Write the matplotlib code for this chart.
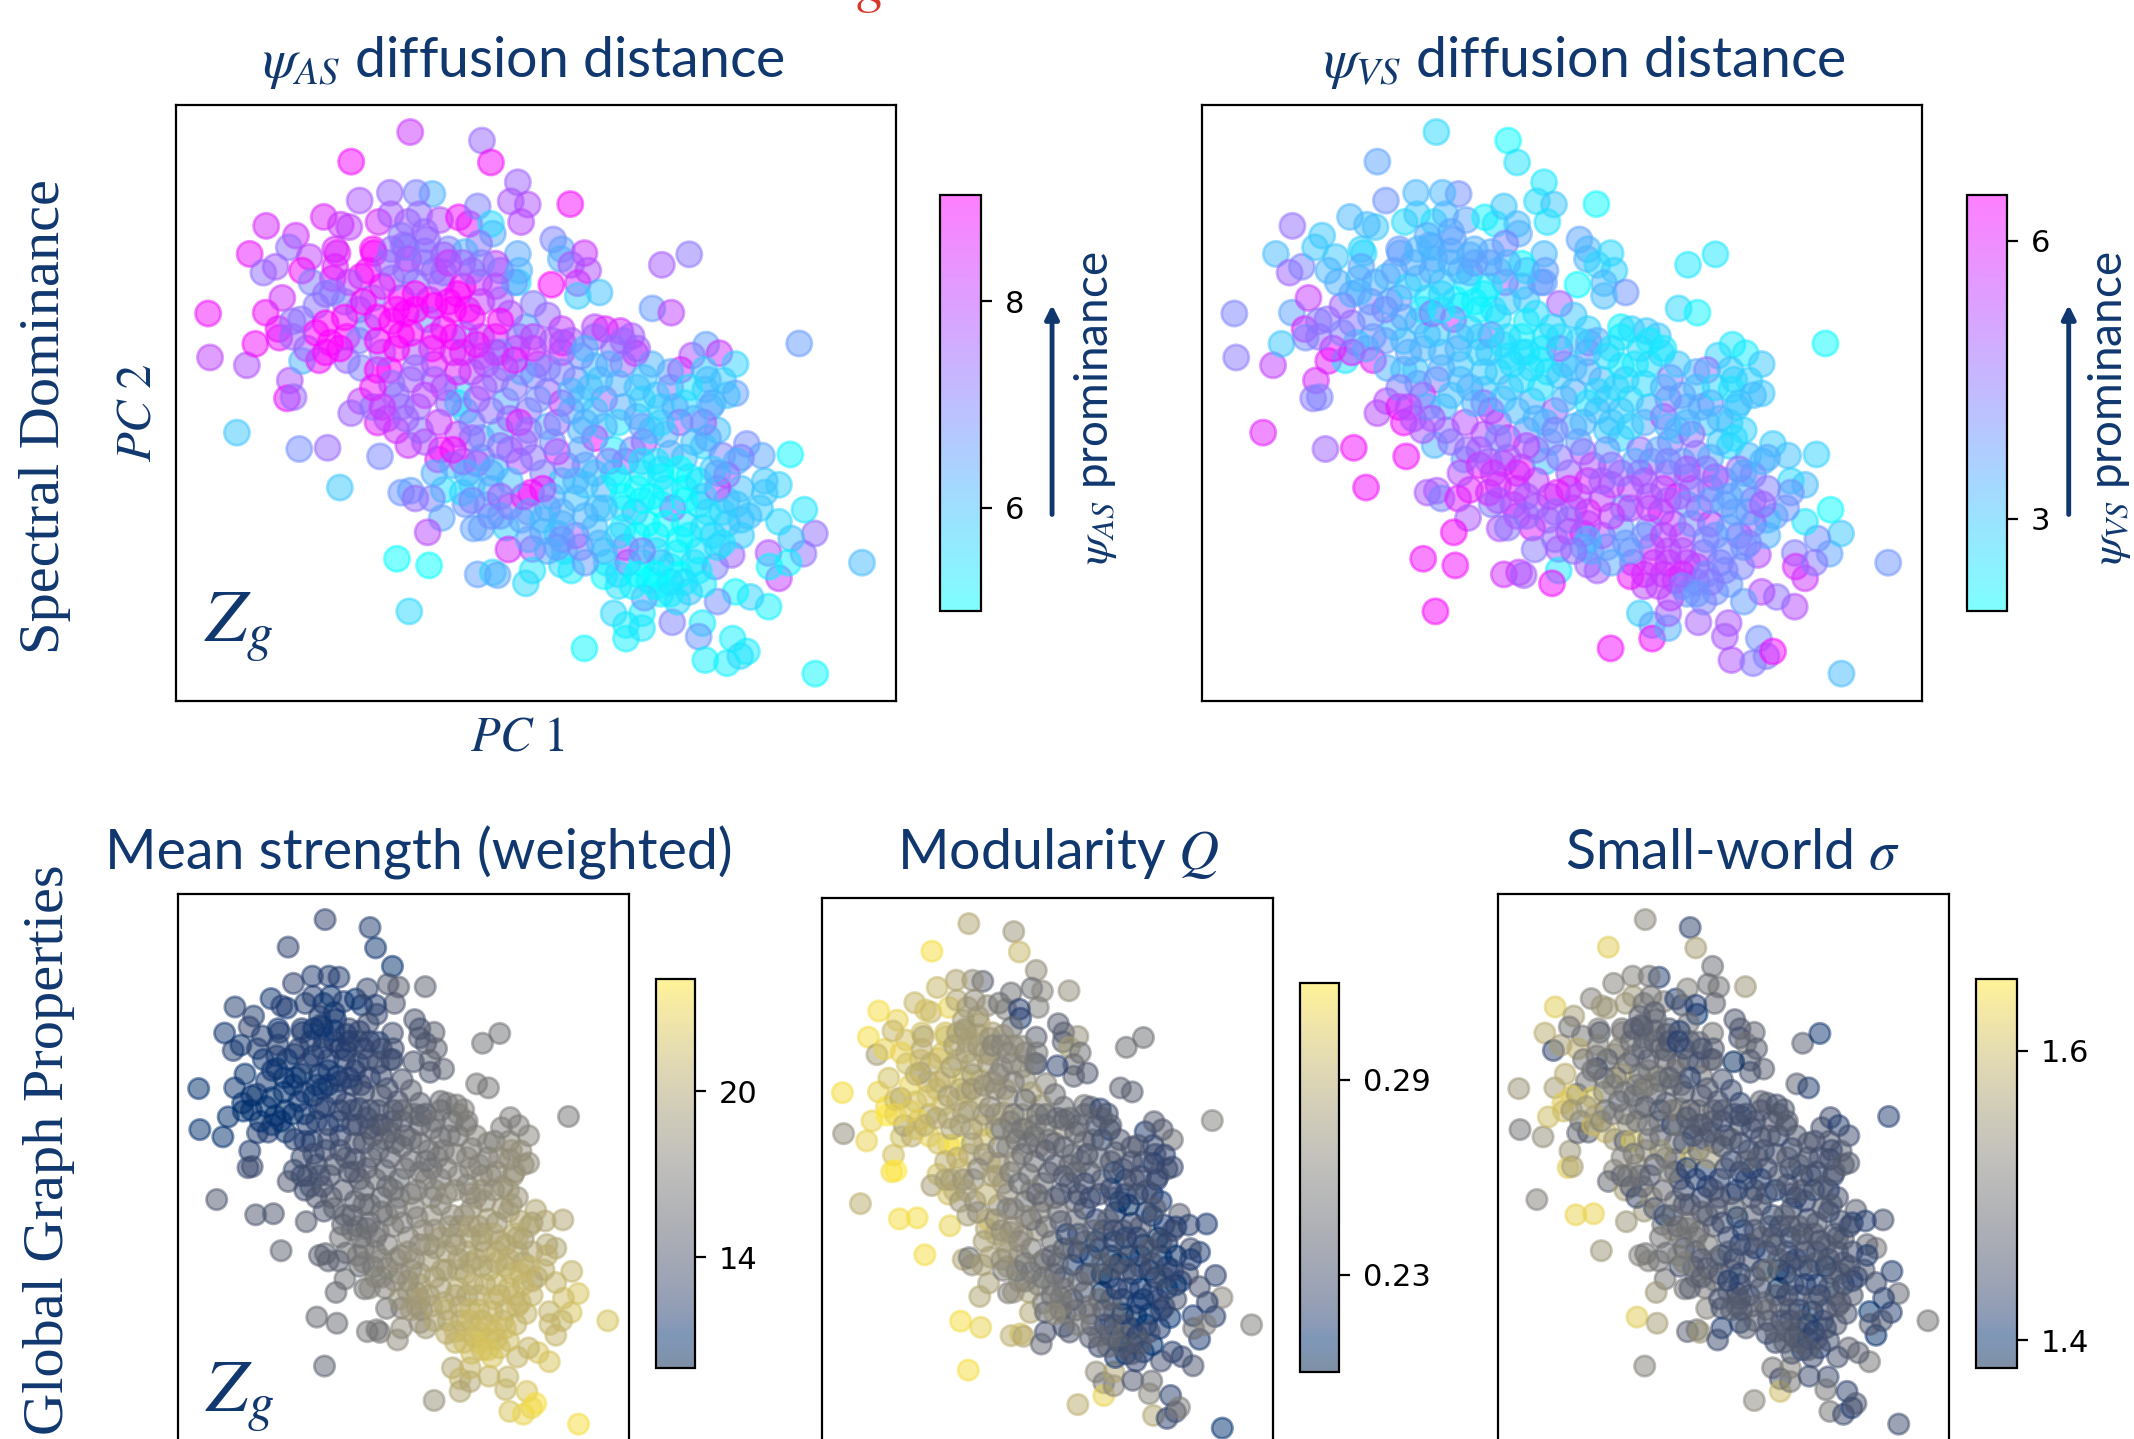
import matplotlib
matplotlib.use("Agg")
import matplotlib.pyplot as plt
from matplotlib.patches import FancyArrowPatch

plt.rcParams['font.family'] = ['Lato', 'DejaVu Sans']
plt.rcParams['mathtext.fontset'] = 'stix'

NAVY = '#10386f'
RED = '#d9352a'

pc1 = [509,661,680,384,737,556,522,466,402,848,
326,204,267,169,198,224,252,296,350,380,
362,442,468,504,528,572,612,634,652,722,
758,744,684,680,655,590,625,737,812,830,
878,828,850,886,864,910,864,808,737,690,
1042,1100,1022,1062,900,922,954,978,832,986,
1106,1136,1164,1198,1333,1082,1132,1172,1198,1134,
81,85,163,181,203,238,230,232,278,254,
248,262,280,316,142,274,334,445,360,404,
384,440,505,568,650,580,490,510,520,555,
576,546,643,672,626,712,717,768,481,549,
652,684,694,768,754,830,850,836,507,878,
940,966,966,1000,1000,1064,1128,1120,1192,1134,
1180,1208,1222,1367,1466,1268,1230,1198,1160,1290,
1342,1366,1316,1268,1270,1310,1344,1314,1290,1260,
1222,1254,1210,1180,1290,1250,1226,1210,1180,1190,
280,345,355,405,432,430,495,505,545,580,
655,690,700,730,770,800,830,755,720,630,
550,490,430,370,345,310,260,330,375,420,
470,490,545,555,600,625,690,735,780,830,
340,290,375,405,440,465,510,560,610,640,
700,745,800,860,900,960,1005,1060,920,870,
480,430,460,525,580,625,665,712,760,830,
480,530,575,610,660,700,750,820,800,900,
900,950,990,1040,1090,1145,1160,1080,1005,965,
600,640,690,740,790,830,880,940,1000,1060,
1130,1170,1100,1050,990,920,860,800,765,720,
745,790,860,905,985,1065,1120,1180,1150,1090,
1030,965,925,970,1030,1075,1110,1155,1015,1060,
950,1100,1040,1075,1005,920,1130,960,900,820,
610,570,640,720,870,1020,1130,1210,1260,1160,
470,520,575,610,660,420,380,450,520,660,
770,850,940,910,830,1000,1050,1110,940,880,
560,680,750,830,960,1020,1090,1140,1000,1060,
620,680,790,840,1040,1150,720,500,400,330,
300,330,370,410,450,480,520,560,600,640,
620,590,500,460,440,400,360,310,260,440,
480,510,580,620,660,700,740,710,670,610,
560,520,470,430,490,540,590,650,690,730,
770,800,780,740,680,640,600,540,500,450,
620,660,700,760,820,850,880,920,960,1000,
1040,1070,1110,1140,1090,1030,980,930,870,810,
770,720,680,640,700,760,810,860,900,950,
1000,1040,1080,1120,1160,1200,1130,1090,1040,1000,
960,920,880,830,790,760,820,870,910,950,
990,1010,1050,1100,1130,1170,1200,1210,1170,1120,
1080,1040,1000,950,990,1030,1080,1120,1160,1030,
980,1090,1060,920,880,830,800,700,660,630,
560,600,650,690,730,770,810,870,930,890,
850,950,990,1030,1060,1020,960,990,900,880,
1140,1100,1150,1180,520,560,640,700,660,540,
500,540,580,490,470,540,590,620,740,350]

pc2 = [84,106,162,160,213,243,240,240,260,269,
302,325,350,397,445,430,380,405,385,328,
322,315,295,315,295,310,303,320,275,262,
270,315,345,320,370,385,392,397,360,385,
395,410,425,440,472,496,505,476,470,422,
425,398,537,548,585,590,595,608,625,652,
658,630,652,680,627,695,695,722,755,745,
550,663,683,628,548,510,590,612,565,722,
768,765,672,670,856,898,895,917,997,775,
806,830,888,925,935,1003,1010,1005,1025,1025,
1075,1112,1102,1042,1040,1100,1156,1155,1180,1197,
1220,1215,1222,1210,1243,1195,1210,1160,1315,1410,
1320,1350,1385,1358,1320,1343,1345,1380,1385,1440,
1448,1430,1418,1475,1190,1303,1278,1265,1290,1230,
1167,1115,1128,1165,1200,1190,1054,912,990,980,
885,915,920,965,1085,1050,1070,1080,1030,1170,
440,460,395,455,395,385,375,410,360,445,
470,480,515,470,525,555,590,585,550,540,
515,510,510,520,495,530,570,575,610,585,
570,605,565,640,650,605,610,640,680,650,
625,640,670,690,695,695,720,680,745,700,
650,700,750,720,685,680,715,740,770,770,
760,790,820,790,740,800,740,775,800,780,
850,850,900,860,870,850,880,905,840,800,
870,830,815,790,780,790,850,830,880,930,
940,990,945,930,960,980,940,900,960,910,
890,915,970,1000,1000,1000,1025,1050,1010,1045,
1080,1110,1120,1050,1060,1050,1040,1090,1120,1090,
1120,1150,1190,1190,1160,1165,1190,1200,1235,1240,
1250,1265,1270,1290,1280,1225,1245,1100,1100,1115,
780,830,830,820,850,850,830,1000,1010,1000,
460,470,470,500,520,440,470,650,650,660,
640,620,640,720,700,770,860,880,960,990,
960,1000,1020,1060,1050,1020,1000,1060,1190,1200,
1010,1070,1000,940,950,950,900,550,540,650,
470,500,560,520,480,540,540,530,540,560,
480,520,440,420,560,620,640,600,610,620,
640,600,590,650,610,570,610,690,680,700,
720,690,730,740,790,760,780,770,720,740,
710,690,770,830,800,870,900,880,820,790,
930,920,890,850,830,800,830,840,790,840,
830,790,820,870,920,930,900,930,900,880,
920,980,960,1030,1020,1060,1020,980,960,980,
930,970,950,980,960,930,1020,1030,1040,1030,
1020,1050,1070,1090,1080,1130,1150,1150,1140,1120,
1120,1090,1090,1120,1100,1060,1040,1120,1140,1160,
1130,1190,1160,1220,1220,1220,1220,1210,1150,1250,
1250,1240,1270,1160,1190,1130,1160,1070,1100,960,
610,610,630,650,670,610,620,660,680,740,
750,730,740,760,700,680,620,640,610,640,
720,740,780,760,500,440,440,440,420,420,
380,390,400,350,385,340,420,420,440,430]

psi_as = [8.2,7.4,8.9,8.9,7.5,6.2,7.0,7.4,7.7,8.9,
8.5,8.4,8.3,8.7,7.3,7.6,7.3,8.0,8.4,8.0,
8.2,8.4,7.6,7.6,7.3,7.8,8.8,8.7,7.0,7.7,
7.8,7.9,6.4,5.6,7.2,7.0,6.2,6.4,7.0,6.5,
8.2,6.3,7.7,7.8,8.3,6.0,5.8,9.0,5.5,8.0,
7.6,7.2,6.6,8.0,7.9,8.5,8.4,7.6,8.4,8.6,
7.8,6.5,8.2,5.7,6.6,8.4,5.8,5.8,6.5,6.0,
8.8,8.0,7.8,8.8,8.8,8.3,8.8,8.7,7.2,7.8,
8.7,7.4,6.2,8.7,5.9,6.8,7.4,6.9,5.9,8.0,
7.5,8.6,8.2,8.6,8.9,5.5,6.7,6.5,7.4,7.0,
6.4,7.9,6.5,6.2,6.7,5.7,8.4,7.9,5.0,5.0,
6.5,5.7,6.4,5.4,5.6,5.6,5.3,5.4,5.6,5.1,
5.6,5.3,5.2,5.4,5.3,7.0,5.3,6.7,5.2,5.2,
5.2,5.6,5.3,5.1,6.1,5.2,5.7,5.1,6.8,8.1,
7.3,7.3,6.0,7.8,5.2,5.2,5.4,5.1,5.7,5.9,
6.8,6.4,7.0,8.4,5.6,5.8,6.0,5.9,6.2,7.5,
8.9,8.8,8.6,8.9,9.0,9.0,7.5,8.8,7.4,6.8,
8.2,8.0,7.6,6.6,7.1,7.4,8.1,6.4,7.8,9.0,
9.0,8.9,7.0,7.2,6.8,7.2,7.3,9.0,9.0,6.7,
9.0,9.0,6.5,9.0,8.5,6.0,8.6,8.4,8.0,8.5,
9.0,7.7,7.4,7.0,9.0,9.0,7.6,8.6,5.7,7.8,
6.4,5.8,7.4,6.8,6.0,7.4,5.9,7.2,7.5,5.9,
7.4,7.2,7.9,7.5,8.3,6.0,7.8,6.3,7.2,8.1,
8.3,7.2,8.8,8.0,6.5,6.1,7.6,8.6,6.2,5.9,
9.0,5.4,6.4,5.8,5.6,6.3,6.0,7.9,8.0,7.7,
6.0,5.8,6.0,7.7,7.0,5.8,6.6,5.3,5.5,6.4,
5.6,7.0,5.2,5.7,5.0,6.2,6.0,7.0,8.9,7.7,
6.5,6.4,7.7,6.0,6.6,8.8,5.3,6.0,5.7,5.4,
5.5,7.9,5.6,7.8,5.4,5.3,5.5,7.0,5.0,6.5,
5.5,6.0,5.1,5.6,6.6,5.1,5.3,5.2,6.0,5.8,
5.4,8.2,6.9,7.4,6.2,5.8,7.6,6.0,5.9,8.2,
7.3,7.0,7.7,9.0,8.1,8.9,7.8,7.3,7.6,7.5,
8.3,7.6,7.2,6.0,7.0,5.5,6.2,6.0,5.1,5.9,
6.3,6.2,8.7,6.3,5.5,5.0,5.1,5.4,5.0,5.2,
5.6,7.0,8.8,7.2,5.3,5.8,7.5,9.0,7.0,8.9,
7.0,7.3,9,9,8.8,9,9,9,9,9,
9,9,7.3,7.4,9,7,9,9,7.4,9,
9,9,9,8.5,8.2,9,7.5,7.5,8,8.5,
7.5,7.4,7.2,8.8,7.3,8,7.4,7.6,7.3,7.2,
7,7,6.8,8.6,7.3,7.4,8.9,7.8,7.5,8.2,
8,6.8,7.3,7.2,7.4,6.4,6.2,6.2,6.3,6.4,
5.7,6.3,6.2,6.4,6.0,5.5,6.8,7.2,6.4,6.8,
7.2,6.0,6.3,7,7.6,6.5,6.3,6.2,6,5.2,
5.4,5.2,5.0,5.4,6.4,6.2,5.8,5.0,5.1,5.2,
5.0,6.0,6.2,6.2,6,6.4,6.6,7,6.2,5.8,
5.2,5.0,5.0,5.2,5.5,5.6,5.9,5.8,5.4,5.4,
5.1,6.0,7,5.6,5.0,5,5.0,5.3,5.6,5.1,
5.2,5.5,5.3,6,6.6,6.8,6.3,6.6,6.5,6.2,
8.7,9,8.8,8,8.6,8,7.6,6.8,6.4,6.0,
6.2,6.2,6.0,5.9,6.4,6.2,7.4,7.5,7.5,6.2,
6.1,5.5,6.3,6.0,9,7.4,7.5,7.5,7,7.4,
7.2,7.1,7.5,7.2,7.3,7.4,8.2,7.5,6.2,8.5]

psi_vs = [2.7,2.1,2.5,3.6,2.4,4.0,3.3,3.3,3.9,2.1,
3.3,4.6,3.0,3.2,4.8,4.2,3.0,3.0,2.8,3.0,
3.2,2.6,3.0,2.5,3.3,3.6,2.2,2.4,3.0,2.6,
3.0,2.5,3.5,3.2,4.2,3.4,3.5,3.2,3.6,3.3,
2.7,3.3,2.7,2.8,3.3,3.9,3.2,2.1,3.7,2.1,
2.4,2.4,2.7,2.2,2.2,2.8,3.0,3.0,4.1,2.7,
2.8,2.4,2.3,3.0,2.1,4.6,3.0,2.8,3.0,2.2,
4.2,4.4,5.4,3.0,3.6,5.5,6.0,4.0,4.5,5.8,
4.4,4.2,6.0,2.4,6.0,4.8,6.3,6.3,6.3,5.2,
5.2,6.3,3.3,3.6,6.0,6.0,5.0,5.0,4.2,6.0,
5.0,6.4,5.1,5.7,4.3,6.0,4.4,5.0,6.3,6.3,
5.7,5.5,4.9,2.4,6.3,4.8,4.9,3.5,6.4,6.3,
2.9,3.6,6.3,3.4,4.8,4.9,5.0,5.0,4.0,5.1,
4.4,4.3,6.3,3.2,3.9,5.2,4.5,5.2,3.7,5.6,
3.6,3.0,4.0,4.3,5.8,4.4,2.1,2.8,3.2,2.7,
2.9,3.1,3.5,4.6,2.4,4.0,3.6,3.2,5.0,5.2,
3.3,3.0,2.7,3.0,3.5,3.8,3.4,3.4,3.7,4.2,
5.0,3.5,3.0,3.8,4.9,3.0,2.8,2.8,2.6,2.2,
2.0,2.2,4.0,4.2,3.2,4.8,4.4,4.6,4.0,3.0,
3.0,3.3,5.8,3.5,2.8,4.9,2.2,2.3,2.8,3.9,
3.0,6.2,6.0,3.4,3.1,3.0,4.4,3.0,3.0,2.8,
2.5,2.6,3.5,3.2,2.2,2.6,4.4,3.0,2.6,3.0,
5.7,6.2,5.2,3.3,3.6,5.6,3.2,3.4,4.8,2.4,
5.0,4.5,4.8,5.2,5.8,3.8,3.4,5.2,3.4,3.0,
2.7,3.5,5.2,3.3,4.0,3.1,2.8,3.0,4.6,4.4,
6.2,5.8,6.2,3.0,4.8,6.0,5.0,4.6,4.7,4.4,
2.6,3.2,6.3,4.8,5.6,5.4,5.4,5.2,6.0,5.0,
5.0,5.9,5.2,4.0,6.0,5.6,3.6,4.9,5.0,5.4,
5.4,5.7,5.0,5.5,5.0,4.6,4.4,4.2,6.3,4.5,
5.3,4.0,3.8,4.2,5.3,6.2,3.8,4.0,3.7,5.8,
4.6,5.2,5.0,3.4,3.0,3.3,2.8,4.3,3.9,3.4,
3.2,2.8,2.3,2.4,3.0,3.7,3.5,3.7,3.2,2.4,
5.0,3.5,2.8,3.0,3.4,4.4,4.6,3.0,5.3,5.4,
5.2,5.8,5.6,6.0,5.8,6.1,4.5,3.8,5.8,5.2,
5.8,5.5,6.0,5.0,6.3,4.6,4.5,6.2,4.4,5.8,
3.4,3.5,3.8,3.5,2.8,2.5,2.2,2.3,2.2,2.6,
2.2,2.2,3.4,3.5,3.6,3.8,3.5,4.2,4.5,3.2,
3.3,3.0,2.7,3.0,2.6,2.4,2.5,2.6,2.7,3.0,
3.2,3.4,3.6,4.3,3.2,3.1,3.3,3.0,2.6,2.5,
3.0,3.2,3.2,3.3,3.2,4.0,4.8,4.5,5.0,5.2,
4.8,4.6,5.2,4.2,3.3,3.2,3.0,2.8,3.2,3.2,
3.3,3.5,3.3,2.6,3.4,3.7,3.5,3.4,3.8,3.7,
4.5,5.3,5.8,5.0,5.0,4.7,5.2,4.8,4.5,4.8,
4.2,4.4,4.4,4.0,3.5,3.3,3.6,3.7,3.7,4.8,
5.0,5.2,5.5,5.4,4.6,4.6,3.6,4.0,3.8,4.0,
5.4,5.2,4.0,3.8,3.6,3.6,4.8,3.4,4.2,4.0,
4.2,5.4,5.2,5.8,5.6,5.8,4.0,4.2,3.9,4.0,
5.4,4.4,3.8,3.8,3.5,3.2,4.6,4.6,4.4,5.6,
3.2,3.0,2.6,2.5,2.4,2.6,2.8,2.6,2.4,2.6,
2.8,2.6,3.3,3.6,3.4,3.0,2.3,2.4,2.3,2.6,
2.8,2.7,3.0,3.2,2.8,3.3,3.0,2.9,3.4,3.3,
3.3,3.5,3.4,3.5,3.3,3.6,3.6,3.7,3.7,3.6]

strength = [12.5,12,11.5,12.5,11,12,12,12,12.5,15,
11.5,12,12,11.5,12,11.5,12.5,12,11.5,11.5,
12,12,12,11.5,11.5,12,11,11.5,13,14,
14.5,14,13,12,13,13,12.5,13.5,14,13.5,
15,14,14,15,15,15,14,14,13,12,
16,16,16.5,16.5,15.5,16.5,16.5,17,15,17,
17,17,17,17.5,16.5,17,17.5,18,18,18,
11,11,11,11,11.5,11,11,11,12,12,
13,13,12,12,14,14,14,14.5,15,13,
14,13,14,15,15,15.5,14.5,15,15,15,
16,15.5,16,15.5,15.5,17,16.5,17,15.5,15.5,
16.5,16.5,16.5,18,18,18,19,18,15,18.5,
20,21,20,20,21,21,21,21,22,22,
23,23,23.5,23.5,22,22,22,21,21,21,
22,22,21.5,21,21,21,21,20,20,20,
20,20,19.5,19,21,20.5,20.5,20,19.5,21,
12,12,12,12,12,12,11.5,12,12,12.5,
13,13,13,13,14,15,15,14,13.5,13,
11.5,11.5,11,11,11,11.5,11,11,11,11.5,
11,12,12,12,13,13,13.5,14,15,15,
11,11,11.5,12,12,12,13,12.5,13.5,13.5,
14,15,15.5,16,16,16.5,17,17,17,16.5,
13,13,13.5,14,14,15,14.5,15,15.5,16.5,
14,14.5,15,15,15.5,15.5,16,17,16.5,17,
17.5,18,17.5,18,18,18.5,18.5,18,18.5,19,
16,16.5,16.5,17,17.5,18,18,18,19.5,19.5,
19.5,20,20,20,20,19.5,19,18,18,17.5,
18,18.5,19,19.5,20,20.5,20.5,21,21,21,
20.5,20,20,20.5,21,21,21,21,21.5,21.5,
21,21.5,21.5,22,21.5,20.5,21.5,20.5,19.5,19,
14.5,14.5,15,15.5,17.5,18.5,19,20,20.5,20,
11.5,12,12,12,12.5,12,11.5,12,12,13.5,
14.5,15,16,16.5,16,17.5,18.5,19,19.5,19,
16,17,18,19,20,20,20.5,21,21.5,21.5,
16.5,17.5,18,18,20,20.5,17,11.5,11.5,11.5,
11.5,11.5,11,11,12,11.5,11.5,12,12.5,13,
12.5,12,12,12,11.5,11,11,11,11,11.5,
12,12,12.5,13,13.5,14,14,14.5,14.5,14,
13.5,13,13,13,13.5,14,14,14.5,15,15,
15.5,15.5,16,16,15.5,15.5,15,15,14,13.5,
15.5,15.5,16,16.5,17,17,17.5,18,17.5,18,
18.5,18,18.5,19,19,19,18.5,18.5,18,17.5,
17,17,16.5,17,17.5,18,18.5,18.5,19,19,
19.5,19.5,20,20,20,20,20.5,20.5,20,20,
19.5,19.5,19.5,19.5,18.5,18.5,19,19.5,20,20,
20,20.5,20.5,20.5,21,21,21,21,21,21,
21,21,21,21,21,21.5,21.5,21.5,21,22,
21.5,21.5,22,20.5,20,19.5,19,17.5,17.5,16,
12.5,13,13.5,14,15,15,15.5,16,16.5,16.5,
16,17,17.5,17.5,17.5,17.5,17,17,16,16,
18.5,18,18.5,18.5,11.5,12,12.5,13,12.5,12,
11.5,11.5,12,12,11.5,11.5,12,12.5,13,12]

modularity = [.285,.275,.295,.315,.27,.24,.27,.285,.295,.27,
.295,.315,.31,.315,.28,.31,.295,.30,.30,.295,
.30,.31,.285,.28,.27,.27,.25,.26,.25,.25,
.265,.26,.215,.22,.25,.28,.27,.24,.24,.24,
.27,.24,.28,.25,.25,.235,.24,.22,.22,.265,
.25,.25,.24,.24,.255,.24,.22,.23,.235,.22,
.215,.24,.235,.25,.26,.235,.225,.22,.225,.215,
.315,.27,.31,.31,.31,.30,.315,.32,.275,.30,
.315,.32,.30,.29,.29,.315,.315,.31,.315,.30,
.28,.30,.28,.285,.27,.28,.285,.25,.27,.28,
.28,.285,.26,.24,.26,.28,.285,.24,.315,.31,
.29,.30,.285,.23,.245,.23,.235,.255,.315,.29,
.27,.255,.31,.265,.285,.235,.25,.265,.22,.285,
.22,.23,.26,.21,.26,.235,.225,.22,.23,.215,
.22,.265,.22,.215,.25,.26,.22,.215,.215,.23,
.24,.22,.215,.215,.23,.235,.22,.21,.215,.21,
.31,.30,.285,.305,.30,.30,.27,.28,.29,.28,
.26,.27,.27,.255,.265,.25,.25,.27,.28,.285,
.30,.31,.30,.29,.275,.31,.30,.30,.285,.30,
.295,.28,.29,.30,.27,.295,.28,.265,.25,.27,
.31,.28,.31,.30,.31,.32,.29,.30,.27,.27,
.27,.265,.24,.25,.255,.22,.24,.23,.235,.25,
.30,.28,.29,.27,.29,.265,.27,.25,.25,.23,
.275,.27,.30,.27,.26,.25,.265,.23,.245,.225,
.22,.225,.215,.225,.22,.215,.215,.22,.215,.23,
.29,.28,.27,.27,.25,.24,.22,.22,.215,.22,
.21,.215,.205,.21,.205,.21,.215,.23,.24,.25,
.26,.24,.235,.22,.205,.21,.215,.21,.215,.21,
.205,.22,.23,.22,.205,.205,.21,.215,.205,.21,
.225,.215,.21,.22,.215,.235,.21,.205,.23,.25,
.28,.29,.27,.265,.24,.21,.215,.205,.215,.21,
.29,.285,.275,.265,.26,.30,.29,.285,.28,.265,
.255,.25,.225,.225,.24,.21,.205,.215,.21,.215,
.28,.27,.26,.235,.205,.205,.21,.205,.22,.21,
.27,.265,.245,.22,.21,.205,.25,.29,.295,.30,
.30,.29,.30,.29,.28,.285,.275,.27,.27,.265,
.265,.27,.28,.28,.28,.285,.29,.305,.31,.285,
.28,.28,.265,.26,.255,.25,.25,.25,.255,.26,
.27,.28,.29,.29,.27,.265,.28,.26,.25,.25,
.24,.245,.24,.24,.25,.26,.27,.27,.28,.28,
.27,.27,.265,.25,.23,.235,.23,.225,.235,.23,
.22,.235,.23,.24,.235,.23,.24,.245,.245,.25,
.25,.26,.265,.27,.255,.25,.245,.24,.24,.23,
.225,.235,.22,.24,.23,.225,.23,.225,.235,.235,
.24,.24,.25,.25,.26,.26,.25,.24,.25,.25,
.24,.215,.22,.21,.22,.23,.22,.23,.225,.21,
.215,.23,.24,.25,.24,.25,.22,.23,.22,.24,
.245,.24,.235,.25,.26,.26,.27,.26,.27,.275,
.275,.27,.26,.255,.25,.25,.245,.245,.24,.245,
.245,.245,.235,.23,.235,.235,.24,.24,.245,.245,
.225,.23,.23,.225,.275,.28,.265,.26,.27,.275,
.28,.28,.275,.28,.28,.275,.265,.265,.255,.29]

small_world = [1.53,1.43,1.56,1.62,1.49,1.42,1.5,1.52,1.52,1.55,
1.52,1.62,1.56,1.58,1.43,1.56,1.5,1.5,1.52,1.55,
1.55,1.55,1.55,1.5,1.5,1.52,1.42,1.45,1.52,1.49,
1.5,1.48,1.4,1.42,1.5,1.46,1.42,1.5,1.46,1.46,
1.48,1.45,1.5,1.47,1.46,1.47,1.45,1.39,1.46,1.48,
1.47,1.41,1.47,1.42,1.48,1.47,1.45,1.46,1.43,1.46,
1.45,1.44,1.42,1.44,1.42,1.45,1.46,1.47,1.46,1.44,
1.55,1.5,1.54,1.6,1.56,1.58,1.62,1.6,1.5,1.55,
1.62,1.56,1.48,1.47,1.52,1.63,1.63,1.55,1.55,1.53,
1.48,1.56,1.55,1.5,1.52,1.48,1.52,1.5,1.52,1.5,
1.5,1.55,1.5,1.45,1.45,1.5,1.52,1.45,1.62,1.56,
1.47,1.5,1.55,1.42,1.44,1.42,1.47,1.45,1.52,1.53,
1.5,1.45,1.6,1.5,1.52,1.44,1.44,1.5,1.43,1.5,
1.44,1.42,1.46,1.44,1.5,1.5,1.47,1.48,1.45,1.4,
1.42,1.48,1.42,1.4,1.46,1.45,1.42,1.45,1.5,1.48,
1.47,1.42,1.42,1.48,1.44,1.46,1.44,1.42,1.47,1.45,
1.58,1.5,1.47,1.55,1.53,1.5,1.45,1.48,1.5,1.47,
1.46,1.45,1.5,1.48,1.45,1.44,1.43,1.45,1.46,1.5,
1.55,1.5,1.6,1.5,1.45,1.5,1.62,1.62,1.48,1.46,
1.48,1.5,1.47,1.48,1.42,1.56,1.5,1.46,1.45,1.46,
1.58,1.5,1.6,1.55,1.47,1.62,1.55,1.47,1.5,1.42,
1.46,1.48,1.42,1.44,1.45,1.44,1.43,1.45,1.44,1.43,
1.56,1.48,1.46,1.46,1.5,1.44,1.6,1.42,1.42,1.42,
1.44,1.55,1.42,1.5,1.46,1.44,1.47,1.39,1.45,1.42,
1.45,1.4,1.45,1.45,1.44,1.43,1.45,1.42,1.44,1.43,
1.54,1.45,1.5,1.46,1.44,1.42,1.45,1.43,1.42,1.44,
1.42,1.45,1.42,1.44,1.43,1.42,1.46,1.5,1.42,1.45,
1.5,1.48,1.44,1.42,1.4,1.41,1.39,1.42,1.46,1.42,
1.44,1.46,1.45,1.44,1.42,1.39,1.44,1.46,1.42,1.4,
1.44,1.42,1.41,1.44,1.46,1.44,1.45,1.39,1.44,1.46,
1.46,1.48,1.44,1.42,1.46,1.42,1.43,1.44,1.42,1.45,
1.5,1.46,1.48,1.52,1.42,1.52,1.47,1.55,1.5,1.47,
1.43,1.45,1.46,1.44,1.44,1.42,1.43,1.46,1.44,1.42,
1.5,1.46,1.48,1.42,1.39,1.42,1.44,1.44,1.44,1.41,
1.52,1.5,1.46,1.42,1.44,1.45,1.46,1.5,1.52,1.6,
1.5,1.5,1.52,1.5,1.48,1.5,1.52,1.5,1.5,1.46,
1.48,1.47,1.47,1.49,1.5,1.52,1.52,1.55,1.55,1.5,
1.5,1.48,1.47,1.5,1.47,1.46,1.47,1.46,1.44,1.5,
1.55,1.5,1.5,1.52,1.48,1.47,1.52,1.42,1.48,1.56,
1.46,1.46,1.45,1.45,1.42,1.46,1.48,1.46,1.48,1.5,
1.48,1.5,1.47,1.45,1.42,1.42,1.44,1.45,1.46,1.45,
1.46,1.44,1.46,1.46,1.46,1.47,1.47,1.45,1.46,1.47,
1.44,1.5,1.5,1.52,1.47,1.46,1.44,1.45,1.47,1.46,
1.46,1.47,1.46,1.47,1.46,1.44,1.45,1.46,1.46,1.44,
1.46,1.5,1.47,1.44,1.42,1.45,1.47,1.47,1.48,1.46,
1.44,1.45,1.42,1.42,1.45,1.46,1.45,1.46,1.46,1.44,
1.46,1.47,1.46,1.48,1.47,1.46,1.42,1.44,1.47,1.47,
1.47,1.45,1.47,1.48,1.47,1.46,1.47,1.47,1.47,1.5,
1.46,1.5,1.46,1.47,1.46,1.46,1.45,1.44,1.46,1.46,
1.47,1.45,1.47,1.46,1.46,1.46,1.46,1.47,1.46,1.45,
1.44,1.45,1.46,1.47,1.5,1.48,1.45,1.44,1.47,1.48,
1.47,1.48,1.47,1.48,1.47,1.47,1.46,1.42,1.46,1.52]

W, H = 2134, 1439
fig = plt.figure(figsize=(W / 100, H / 100), dpi=100, facecolor='white')
S = 1.361


def box(x0, y0, x1, y1):
    return [x0 * S / W, 1 - y1 * S / H, (x1 - x0) * S / W, (y1 - y0) * S / H]


def ftext(x, y, s, **kw):
    kw.setdefault('color', NAVY)
    kw.setdefault('ha', 'center')
    kw.setdefault('va', 'center')
    return fig.text(x * S / W, 1 - y * S / H, s, **kw)


def panel(ax_box, cax_box, vals, cmap, vmin, vmax, ticks, ticklabels, size):
    ax = fig.add_axes(box(*ax_box))
    sc = ax.scatter(pc1, pc2, c=vals, cmap=cmap, vmin=vmin, vmax=vmax, s=size,
                    alpha=0.5, linewidths=2.0, edgecolors='face')
    ax.set_xlim(12, 1537)
    ax.set_ylim(1545, 14)
    ax.set_xticks([])
    ax.set_yticks([])
    for sp in ax.spines.values():
        sp.set_linewidth(1.6)
    cax = fig.add_axes(box(*cax_box))
    cb = fig.colorbar(sc, cax=cax)
    cb.set_ticks(ticks)
    cb.set_ticklabels(ticklabels)
    cb.ax.tick_params(labelsize=22, length=8, width=1.6, pad=9)
    for lab in cb.ax.get_yticklabels():
        lab.set_fontfamily('DejaVu Sans')
    cb.outline.set_linewidth(1.6)
    return ax


s_top = 330
s_bot = 215
panel((129, 77, 658, 515), (691, 143, 721, 449), psi_as, 'cool', 5.0, 9.03, [6, 8], ['6', '8'], s_top)
panel((883, 77, 1412, 515), (1445, 143, 1475, 449), psi_vs, 'cool', 2.0, 6.5, [3, 6], ['3', '6'], s_top)
panel((131, 657, 462, 1065), (482, 719, 511, 1005), strength, 'cividis', 10.0, 24.08, [14, 20], ['14', '20'], s_bot)
panel((604, 660, 935, 1068), (955, 722, 984, 1008), modularity, 'cividis', 0.20, 0.32, [0.23, 0.29], ['0.23', '0.29'], s_bot)
panel((1101, 657, 1432, 1065), (1452, 719, 1482, 1005), small_world, 'cividis', 1.381, 1.65, [1.4, 1.6], ['1.4', '1.6'], s_bot)

TS = 40
ftext(385, 46, r'$\psi_{AS}$ diffusion distance', fontsize=TS)
ftext(1164, 46, r'$\psi_{VS}$ diffusion distance', fontsize=TS)
ftext(308, 627, 'Mean strength (weighted)', fontsize=TS)
ftext(778, 627, r'Modularity $Q$', fontsize=TS)
ftext(1273, 627, r'Small-world $\sigma$', fontsize=TS)

ftext(33, 306, 'Spectral Dominance', fontsize=42, rotation=90, family='Liberation Serif')
ftext(36, 845, 'Global Graph Properties', fontsize=42, rotation=90, family='Liberation Serif')

ftext(100, 303, r'$PC\ 2$', fontsize=35, rotation=90)
ftext(380, 541, r'$PC\ 1$', fontsize=35)
ftext(175, 461, r'$Z_g$', fontsize=54)
ftext(176, 1027, r'$Z_g$', fontsize=54)
ftext(640, -10, r'$g$', fontsize=44, color=RED, va='center')

ftext(805, 300, r'$\psi_{AS}$ prominance', fontsize=33, rotation=90)
ftext(1550, 300, r'$\psi_{VS}$ prominance', fontsize=33, rotation=90)
for xa in (773, 1520):
    fig.add_artist(FancyArrowPatch((xa * S / W, 1 - 378 * S / H), (xa * S / W, 1 - 224 * S / H),
                                   transform=fig.transFigure, arrowstyle='-|>', mutation_scale=20,
                                   linewidth=3.5, color=NAVY, shrinkA=0, shrinkB=0))

fig.savefig('out.png', dpi=100)
